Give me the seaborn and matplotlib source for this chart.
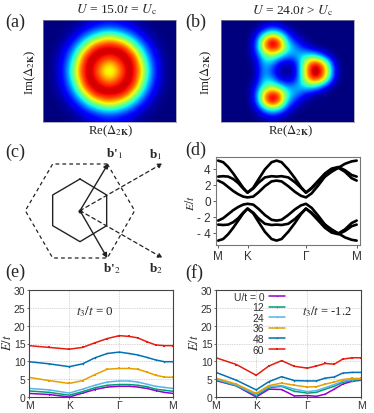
import numpy as np
import seaborn as sns
import matplotlib
matplotlib.use("Agg")
import matplotlib.pyplot as plt

sns.set_style("white")
plt.rcParams["font.family"] = ["Liberation Sans", "DejaVu Sans"]
plt.rcParams["mathtext.fontset"] = "stix"

W, H = 374, 414
SERIF = "Liberation Serif"

# (a) density, one quarter (ring is symmetric)
density_a_quarter = [
    [.55, .68, .91, .95, .72, .36, .13, .03, .00],
    [.68, .80, .94, .94, .66, .32, .12, .03, .00],
    [.91, .94, .96, .87, .52, .25, .09, .02, .00],
    [.95, .94, .87, .60, .36, .16, .06, .01, .00],
    [.72, .66, .52, .36, .19, .08, .02, .00, .00],
    [.36, .32, .25, .16, .08, .03, .01, .00, .00],
    [.13, .12, .09, .06, .02, .01, .00, .00, .00],
]

# (b) density
density_b = [
    [0, 0, 0, 0, 0, .03, .05, .03, 0, 0, 0, 0, 0, 0, 0, 0, 0],
    [0, 0, 0, 0, .04, .22, .38, .28, .10, .02, 0, 0, 0, 0, 0, 0, 0],
    [0, 0, 0, 0, .15, .70, .98, .80, .30, .12, .03, 0, 0, 0, 0, 0, 0],
    [0, 0, 0, 0, .20, .75, .98, .88, .42, .28, .15, .05, 0, 0, 0, 0, 0],
    [0, 0, 0, 0, .12, .44, .55, .42, .26, .30, .35, .38, .28, .08, 0, 0, 0],
    [0, 0, 0, 0, .05, .33, .28, .08, .04, .10, .48, .88, .92, .55, .08, 0, 0],
    [0, 0, 0, 0, .03, .30, .18, .03, .01, .05, .52, .97, 1.0, .72, .12, 0, 0],
    [0, 0, 0, 0, .05, .33, .28, .08, .04, .10, .48, .88, .92, .55, .08, 0, 0],
    [0, 0, 0, 0, .12, .44, .55, .42, .26, .30, .35, .38, .28, .08, 0, 0, 0],
    [0, 0, 0, 0, .20, .75, .98, .88, .42, .28, .15, .05, 0, 0, 0, 0, 0],
    [0, 0, 0, 0, .15, .70, .98, .80, .30, .12, .03, 0, 0, 0, 0, 0, 0],
    [0, 0, 0, 0, .04, .22, .38, .28, .10, .02, 0, 0, 0, 0, 0, 0, 0],
    [0, 0, 0, 0, 0, .03, .05, .03, 0, 0, 0, 0, 0, 0, 0, 0, 0],
]

# (c) Brillouin zones
hex_solid_x = [240, 320, 320, 240, 158, 158, 240]
hex_solid_y = [135, 183, 275, 323, 275, 183, 135]
hex_dash_x = [322, 404, 322, 158, 76, 158, 322]
hex_dash_y = [90, 230, 372, 372, 230, 90, 90]
origin = (240, 230)
b_solid = [(325, 88), (322, 372)]
b_dash = [(488, 88), (488, 372)]

# (d) bands
k_d = [0, 15, 30, 45, 60, 75, 88, 105, 120, 140, 160, 175, 190, 210, 230, 248, 263,
       280, 300, 320, 340, 360, 380, 400, 415]
band_a = [5.0, 4.8, 4.2, 3.4, 2.5, 1.6, 1.0, 1.6, 2.6, 3.9, 4.8, 5.0, 4.8, 3.9, 2.8, 1.7, 1.0,
          1.5, 2.3, 3.0, 3.6, 4.1, 4.6, 4.9, 5.0]
band_b = [3.0, 3.05, 3.0, 2.7, 2.2, 1.5, 1.0, 1.5, 2.2, 2.9, 3.05, 3.0, 3.05, 2.9, 2.3, 1.6, 1.0,
          1.6, 2.5, 3.4, 4.0, 4.2, 3.8, 3.2, 3.0]
band_c = [2.5, 2.2, 1.7, 1.2, 0.8, 0.5, 0.4, 0.5, 1.0, 1.8, 2.4, 2.5, 2.4, 1.8, 1.1, 0.6, 0.4,
          0.9, 1.9, 3.0, 3.8, 4.1, 3.6, 2.8, 2.5]
d_ticks = [0, 88, 263, 415]

# (e) and (f)
labels_u = ["U/t = 0", "12", "24", "36", "48", "60"]
colors_u = ["#9400d3", "#009e73", "#56b4e9", "#e69f00", "#0072b2", "#e51e10"]
marker_u = [0.8, 1.0, 1.0, 1.9, 1.0, 1.9]
k_e = [0, 60, 120, 160, 197, 234, 270, 298, 324, 352, 378, 404, 430]
e_ticks = [0, 120, 270, 430]
e_vals = [
    [1.0, 0.7, 0.0, 1.1, 2.1, 2.8, 3.0, 3.0, 2.8, 2.4, 1.8, 1.3, 1.0],
    [1.7, 1.3, 0.5, 1.5, 2.6, 3.3, 3.5, 3.5, 3.3, 2.9, 2.2, 1.9, 1.6],
    [2.4, 2.0, 1.1, 2.2, 3.3, 4.2, 4.5, 4.5, 4.2, 3.6, 3.0, 2.7, 2.4],
    [5.5, 4.6, 3.8, 4.6, 6.3, 7.8, 8.0, 8.0, 7.8, 7.0, 6.1, 5.6, 5.5],
    [9.9, 9.3, 8.5, 9.3, 11.0, 12.2, 12.6, 12.2, 11.8, 11.1, 10.4, 9.9, 9.9],
    [14.4, 13.9, 13.4, 13.9, 15.2, 16.4, 17.2, 17.0, 16.6, 15.5, 14.6, 14.4, 14.4],
]
k_f = [0, 61, 120, 158, 196, 234, 273, 300, 326, 353, 378, 406, 433]
f_ticks = [0, 120, 273, 433]
f_vals = [
    [4.6, 3.1, 0.0, 2.2, 2.1, 0.3, 0.4, 0.2, 0.8, 2.2, 3.6, 4.4, 4.7],
    [4.8, 3.2, 0.4, 2.6, 3.0, 1.6, 1.1, 1.3, 2.2, 3.0, 4.1, 4.6, 4.9],
    [5.0, 3.3, 0.7, 2.9, 3.2, 2.2, 1.5, 1.8, 2.6, 3.5, 4.4, 4.9, 5.0],
    [5.3, 3.6, 1.0, 3.2, 3.9, 3.3, 2.8, 2.9, 3.6, 4.2, 4.9, 5.2, 5.2],
    [6.9, 4.7, 2.0, 4.3, 5.7, 4.6, 4.5, 4.5, 5.3, 5.6, 6.7, 6.9, 6.9],
    [11.0, 9.1, 6.1, 8.7, 10.2, 8.6, 8.1, 8.7, 9.4, 9.2, 10.6, 11.0, 11.0],
]
path_labels = ["M", "K", "Γ", "M"]


def axes_px(fig, x0, y0, x1, y1):
    return fig.add_axes([x0 / W, 1 - y1 / H, (x1 - x0) / W, (y1 - y0) / H])


def text_px(fig, x, y, s, **kw):
    kw.setdefault("family", SERIF)
    kw.setdefault("va", "center")
    kw.setdefault("ha", "center")
    fig.text(x / W, 1 - y / H, s, **kw)


fig = plt.figure(figsize=(W / 100, H / 100), dpi=100)

# top density maps
q = np.array(density_a_quarter)
half = np.hstack([q[:, :0:-1], q])
density_a = np.vstack([half[:0:-1], half])
for grid, box in [(density_a, (43, 21, 176, 123)), (np.array(density_b), (221, 21, 354, 123))]:
    ax = axes_px(fig, *box)
    ax.imshow(grid, cmap="jet", vmin=0, vmax=1, aspect="auto", interpolation="bicubic")
    ax.set_xticks([])
    ax.set_yticks([])
    for s in ax.spines.values():
        s.set_linewidth(0.5)
        s.set_color("#9090a0")

text_px(fig, 117, 10, r"$U$ = 15.0$t$ = $U_{\mathrm{c}}$", fontsize=9.7)
text_px(fig, 293, 11, r"$U$ = 24.0$t$ > $U_{\mathrm{c}}$", fontsize=9.7)
for x in (111, 291):
    text_px(fig, x, 131, r"Re($\Delta_{2\mathbf{K}}$)", fontsize=9.2)
for x in (30, 206):
    text_px(fig, x, 72, r"Im($\Delta_{2\mathbf{K}}$)", fontsize=9.2, rotation=90)
for x, y, s in [(5, 22, "(a)"), (185, 22, "(b)"), (5, 152, "(c)"), (185, 150, "(d)"),
                (5, 272, "(e)"), (185, 273, "(f)")]:
    text_px(fig, x, y, s, fontsize=13, ha="left")

# (c)
ax = axes_px(fig, 0, 135, 190, 280)
ax.set_xlim(0, 570)
ax.set_ylim(435, 0)
ax.axis("off")
ax.plot(hex_solid_x, hex_solid_y, color="#222222", lw=1.0)
ax.plot(hex_dash_x, hex_dash_y, color="#222222", lw=0.9, ls=(0, (3, 2.5)))
ax.plot(*origin, "o", color="#222222", ms=2)
for tip in b_solid:
    ax.annotate("", xy=tip, xytext=origin,
                arrowprops=dict(arrowstyle="-|>", color="#222222", lw=1.0, shrinkA=0, shrinkB=0,
                                mutation_scale=7))
for tip in b_dash:
    ax.annotate("", xy=tip, xytext=origin,
                arrowprops=dict(arrowstyle="-|>", color="#222222", lw=0.9, ls=(0, (3, 2.5)),
                                shrinkA=0, shrinkB=0, mutation_scale=7))
text_px(fig, 114, 154, "b'$_{1}$", fontsize=9.5, fontweight="bold")
text_px(fig, 156, 155, "b$_{1}$", fontsize=9.5, fontweight="bold")
text_px(fig, 112, 269, "b'$_{2}$", fontsize=9.5, fontweight="bold")
text_px(fig, 156, 269, "b$_{2}$", fontsize=9.5, fontweight="bold")

# (d)
ax = axes_px(fig, 215.5, 158, 360, 246)
for band in (band_a, band_b, band_c):
    sns.lineplot(x=k_d, y=band, color="black", lw=1.9, ax=ax, errorbar=None)
    sns.lineplot(x=k_d, y=[-v for v in band], color="black", lw=1.9, ax=ax, errorbar=None)
ax.set_xlim(-8, 425)
ax.set_ylim(-5.55, 5.45)
ax.set_xticks(d_ticks)
ax.set_xticklabels(path_labels, fontsize=8.5)
ax.set_yticks([-4, -2, 0, 2, 4])
ax.set_yticklabels(["- 4", "- 2", "0", "2", "4"], fontsize=8.5)
ax.tick_params(axis="both", length=2, width=0.6, pad=1.5, color="#444444", left=True, bottom=True,
               labelcolor="#333333")
for s in ax.spines.values():
    s.set_linewidth(0.8)
    s.set_color("#777777")
text_px(fig, 190, 203, r"$E/t$", fontsize=8.5, rotation=90)

# (e), (f)
for box, k, vals, ticks in [((29, 291, 173, 398), k_e, e_vals, e_ticks),
                            ((216, 291, 361, 398), k_f, f_vals, f_ticks)]:
    ax = axes_px(fig, *box)
    for vs, lab, col, ms in zip(vals, labels_u, colors_u, marker_u):
        sns.lineplot(x=k, y=vs, color=col, lw=1.1, marker="s", ms=ms, mew=0, label=lab, ax=ax,
                     errorbar=None, legend=False)
    ax.set_xlim(ticks[0], ticks[-1])
    ax.set_ylim(0, 30)
    ax.set_xticks(ticks)
    ax.set_xticklabels(path_labels, fontsize=7.5)
    ax.set_yticks(range(0, 31, 5))
    ax.tick_params(axis="both", length=1.5, width=0.5, pad=1, labelsize=7.5, left=True, bottom=True,
                   labelcolor="#333333", color="#333333")
    ax.grid(True, color="#b0b0b0", lw=0.5, ls=(0, (1, 1.5)))
    for s in ax.spines.values():
        s.set_linewidth(0.8)
        s.set_color("#444444")
    if vals is f_vals:
        ax.legend(loc="upper right", bbox_to_anchor=(0.476, 0.985), frameon=False, markerfirst=False,
                  fontsize=7.5, labelspacing=0.06, handlelength=1.5, handletextpad=0.5,
                  borderpad=0, borderaxespad=0, labelcolor="#333333")

text_px(fig, 8, 343, r"$E/t$", fontsize=9, rotation=90)
text_px(fig, 194, 343, r"$E/t$", fontsize=9, rotation=90)
text_px(fig, 95, 312, r"$t_3/t$ = 0", fontsize=9.3)
text_px(fig, 327, 312, r"$t_3/t$ = -1.2", fontsize=9)

fig.savefig("out.png", dpi=100)
